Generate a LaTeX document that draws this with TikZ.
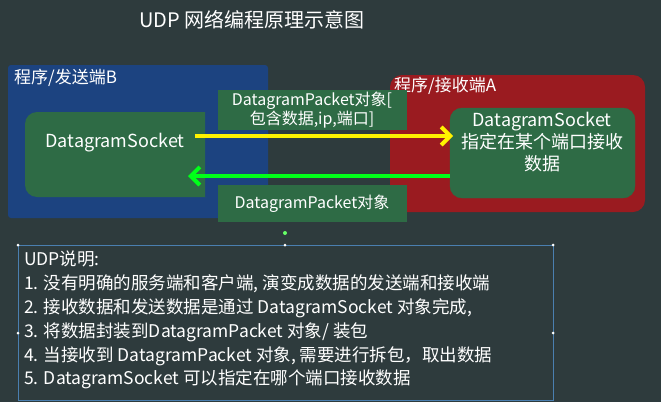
\documentclass[tikz,border=0pt]{standalone}
\usepackage{fontspec}
\setmainfont{Noto Sans CJK SC}
\usetikzlibrary{positioning,arrows.meta}
\definecolor{bgslate}{HTML}{2E3B3D}
\definecolor{sendblue}{HTML}{1C4380}
\definecolor{recvred}{HTML}{9A1B20}
\definecolor{sockgreen}{HTML}{2E6B45}
\definecolor{boxline}{HTML}{4A7FB0}
\tikzset{
  label/.style={text=white, font=\fontsize{17}{20}\selectfont, inner sep=1pt},
  sock/.style={fill=sockgreen, text=white, font=\fontsize{18}{21}\selectfont, align=center, inner sep=0pt},
  packet/.style={fill=sockgreen, text=white, font=\fontsize{16}{18}\selectfont, align=center,
    minimum width=189pt, inner sep=0pt},
  handle/.style={circle, fill=white, inner sep=0pt, minimum size=3pt}
}
\begin{document}
\begin{tikzpicture}[x=1pt,y=-1pt]

\fill[bgslate] (0,0) rectangle (661,402);
\useasboundingbox (0,0) rectangle (661,402);

\node[label, font=\fontsize{20}{24}\selectfont] (title) at (252,20) {UDP 网络编程原理示意图};

\fill[sendblue, rounded corners=3pt] (8,65) rectangle (268,218);
\node[label, anchor=west] (sendlbl) at (13,78) {程序/发送端B};
\fill[recvred, rounded corners=12pt] (390,75) rectangle (645,212);
\node[label, anchor=west] (recvlbl) at (393,86) {程序/接收端A};

\fill[sockgreen] (25,112) [rounded corners=12pt] -- (25,197) -- (195,197)
  [rounded corners=0pt] -- (205,197) -- (205,112) -- (37,112) [rounded corners=12pt] -- cycle;
\node[sock] (sendsock) at (115,143) {DatagramSocket};
\draw[sockgreen, fill=sockgreen, rounded corners=12pt] (450,108) -- (450,198) -- (635,198) -- (635,108) -- cycle;
\node[sock] (recvsock) at (542,142) {DatagramSocket\\[1pt]指定在某个端口接收\\[1pt]数据};

\node[packet, minimum height=40pt] (pktup) at (312,110) {DatagramPacket对象[\\[1pt]包含数据,ip,端口]};
\node[packet, minimum height=37pt, below=55pt of pktup] (pktdown) {DatagramPacket对象};

\coordinate (yfrom) at (195,136);
\coordinate (yto) at (453,136);
\draw[yellow, line width=4pt, -{Straight Barb[length=9pt,width=18pt]}] (yfrom) -- (yto);
\coordinate (gfrom) at (450,176);
\coordinate (gto) at (188,176);
\draw[green!90!cyan, line width=4pt, -{Straight Barb[length=9pt,width=18pt]}] (gfrom) -- (gto);

% note box with selection handles
\draw[boxline, line width=0.6pt] (18,245) rectangle (553,400);
\foreach \hx/\hy in {18/245,285/245,553/245,18/333,553/333}
  \node[handle] at (\hx,\hy) {};
\node[circle, fill=green!60!white, inner sep=0pt, minimum size=4pt] (rot) at (285,233) {};
\node[label, anchor=north west, align=left, font=\fontsize{17.5}{23.8}\selectfont] (notes) at (23,250)
  {UDP说明:\\
   1. 没有明确的服务端和客户端, 演变成数据的发送端和接收端\\
   2. 接收数据和发送数据是通过 DatagramSocket 对象完成,\\
   3. 将数据封装到DatagramPacket 对象/ 装包\\
   4. 当接收到 DatagramPacket 对象, 需要进行拆包，取出数据\\
   5. DatagramSocket 可以指定在哪个端口接收数据};

\end{tikzpicture}
\end{document}
